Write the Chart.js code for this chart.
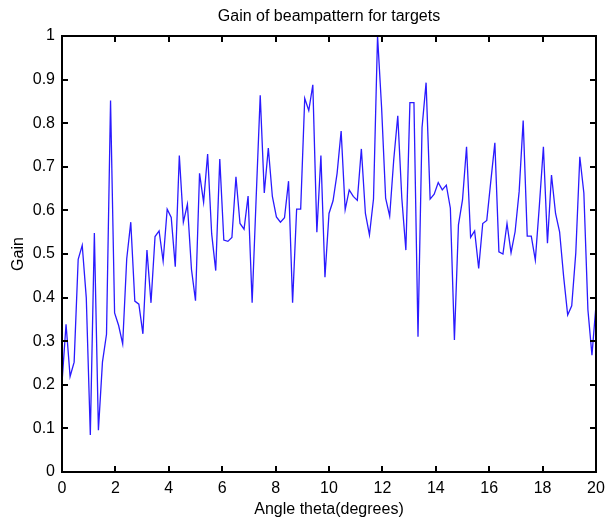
<!DOCTYPE html>
<html>
<head>
<meta charset="utf-8">
<title>Gain of beampattern for targets</title>
<script src="https://cdn.jsdelivr.net/npm/chart.js@4.4.1/dist/chart.umd.min.js"></script>
<style>
  html, body { margin: 0; padding: 0; background: #fff; }
  #wrap { width: 607px; height: 520px; }
</style>
</head>
<body>
<div id="wrap"><canvas id="chart" width="607" height="520"></canvas></div>
<script>
const gains = [
  0.205, 0.339, 0.219, 0.252, 0.488, 0.520, 0.400, 0.085, 0.548, 0.096,
  0.252, 0.316, 0.852, 0.365, 0.336, 0.294, 0.489, 0.573, 0.392, 0.385,
  0.317, 0.509, 0.388, 0.540, 0.553, 0.484, 0.603, 0.584, 0.471, 0.726,
  0.573, 0.614, 0.465, 0.393, 0.685, 0.619, 0.729, 0.546, 0.462, 0.718,
  0.532, 0.529, 0.538, 0.677, 0.570, 0.557, 0.633, 0.388, 0.630, 0.864,
  0.640, 0.743, 0.632, 0.585, 0.573, 0.583, 0.667, 0.388, 0.603, 0.603,
  0.857, 0.829, 0.888, 0.550, 0.726, 0.447, 0.593, 0.622, 0.685, 0.782,
  0.602, 0.647, 0.632, 0.623, 0.741, 0.593, 0.544, 0.626, 1.000, 0.836,
  0.628, 0.587, 0.716, 0.817, 0.628, 0.509, 0.847, 0.847, 0.310, 0.790,
  0.893, 0.626, 0.637, 0.664, 0.647, 0.658, 0.605, 0.303, 0.567, 0.624,
  0.746, 0.538, 0.553, 0.467, 0.570, 0.577, 0.667, 0.755, 0.505, 0.500,
  0.570, 0.503, 0.551, 0.643, 0.806, 0.541, 0.541, 0.486, 0.611, 0.746,
  0.525, 0.681, 0.593, 0.551, 0.448, 0.360, 0.381, 0.502, 0.723, 0.640,
  0.372, 0.268, 0.383
];
const angleMin = 0;
const angleMax = 20;
const xTicks = [0, 2, 4, 6, 8, 10, 12, 14, 16, 18, 20];
const yTicks = [0, 0.1, 0.2, 0.3, 0.4, 0.5, 0.6, 0.7, 0.8, 0.9, 1];
const titleText = 'Gain of beampattern for targets';

const angles = gains.map((_, i) => angleMin + i * (angleMax - angleMin) / (gains.length - 1));
const points = gains.map((g, i) => ({ x: angles[i], y: g }));

const FONT = 'Liberation Sans, Arial, Helvetica, sans-serif';

// box around the plot with ticks pointing inward, title centred on the plot
const frame = {
  id: 'frame',
  afterDraw(chart) {
    const { ctx, chartArea: a, scales } = chart;
    ctx.save();
    ctx.strokeStyle = '#000';
    ctx.lineWidth = 2;
    ctx.strokeRect(a.left, a.top, a.right - a.left, a.bottom - a.top);
    ctx.beginPath();
    const len = 6;
    scales.x.ticks.forEach(t => {
      const px = Math.round(scales.x.getPixelForValue(t.value));
      ctx.moveTo(px, a.bottom); ctx.lineTo(px, a.bottom - len);
      ctx.moveTo(px, a.top); ctx.lineTo(px, a.top + len);
    });
    scales.y.ticks.forEach(t => {
      const py = Math.round(scales.y.getPixelForValue(t.value));
      ctx.moveTo(a.left, py); ctx.lineTo(a.left + len, py);
      ctx.moveTo(a.right, py); ctx.lineTo(a.right - len, py);
    });
    ctx.stroke();

    ctx.fillStyle = '#000';
    ctx.font = '16px ' + FONT;
    ctx.textAlign = 'center';
    ctx.textBaseline = 'middle';
    ctx.fillText(titleText, (a.left + a.right) / 2, 17);
    ctx.restore();
  }
};

new Chart(document.getElementById('chart'), {
  type: 'line',
  data: {
    datasets: [{
      data: points,
      borderColor: '#2a1aff',
      borderWidth: 1.3,
      pointRadius: 0,
      tension: 0,
      fill: false
    }]
  },
  options: {
    responsive: false,
    animation: false,
    layout: { padding: { left: 0, right: 11, top: 36, bottom: 0 } },
    plugins: {
      legend: { display: false },
      tooltip: { enabled: false },
      title: { display: false }
    },
    scales: {
      x: {
        type: 'linear',
        min: angleMin,
        max: angleMax,
        afterBuildTicks: s => { s.ticks = xTicks.map(v => ({ value: v })); },
        afterFit: s => { s.height = 48; s.paddingLeft = 0; s.paddingRight = 0; },
        grid: { display: false, drawTicks: false },
        border: { display: false },
        ticks: {
          color: '#000',
          padding: 7,
          maxRotation: 0,
          font: { family: FONT, size: 16 },
          callback: v => String(v)
        },
        title: {
          display: true,
          text: 'Angle theta(degrees)',
          color: '#000',
          font: { family: FONT, size: 16 },
          padding: { top: 0, bottom: 1 }
        }
      },
      y: {
        min: 0,
        max: 1,
        afterBuildTicks: s => { s.ticks = yTicks.map(v => ({ value: v })); },
        afterFit: s => { s.width = 62; s.paddingTop = 0; s.paddingBottom = 0; },
        grid: { display: false, drawTicks: false },
        border: { display: false },
        ticks: {
          color: '#000',
          padding: 7,
          font: { family: FONT, size: 16 },
          callback: v => String(v)
        },
        title: {
          display: true,
          text: 'Gain',
          color: '#000',
          font: { family: FONT, size: 16 },
          padding: { top: 9, bottom: 0 }
        }
      }
    }
  },
  plugins: [frame]
});
</script>
</body>
</html>
